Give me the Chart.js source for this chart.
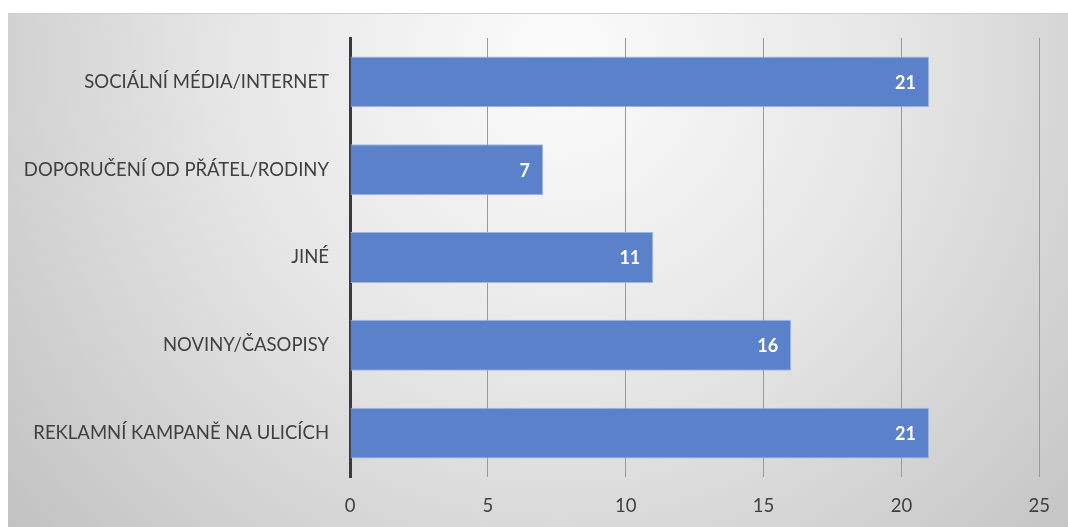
<!DOCTYPE html>
<html>
<head>
<meta charset="utf-8">
<script src="https://cdn.jsdelivr.net/npm/chart.js@4"></script>
<style>
  html, body { margin: 0; padding: 0; background: #ffffff; }
  #wrap { position: relative; width: 1068px; height: 527px; }
</style>
</head>
<body>
<div id="wrap"><canvas id="c"></canvas></div>
<script>
const categories = [
  'SOCIÁLNÍ MÉDIA/INTERNET',
  'DOPORUČENÍ OD PŘÁTEL/RODINY',
  'JINÉ',
  'NOVINY/ČASOPISY',
  'REKLAMNÍ KAMPANĚ NA ULICÍCH'
];
const counts = [21, 7, 11, 16, 21];
const xTicks = [0, 5, 10, 15, 20, 25];

const FONT = 'Lato, "Open Sans", sans-serif';

// Soft grey radial backdrop behind the plot
const backdrop = {
  id: 'backdrop',
  beforeDraw(chart) {
    const ctx = chart.ctx;
    const x0 = 8, y0 = 13, w = chart.width - x0, h = chart.height - y0;
    ctx.save();
    const g = ctx.createRadialGradient(560, 60, 10, 560, 60, 720);
    g.addColorStop(0, '#fbfbfb');
    g.addColorStop(0.45, '#e6e6e6');
    g.addColorStop(1, '#c2c2c2');
    ctx.fillStyle = g;
    ctx.fillRect(x0, y0, w, h);
    ctx.strokeStyle = '#cfcfcf';
    ctx.lineWidth = 1;
    ctx.beginPath();
    ctx.moveTo(x0, y0 + 0.5);
    ctx.lineTo(chart.width, y0 + 0.5);
    ctx.stroke();
    ctx.restore();
  }
};

// White value labels inside the end of each bar
const valueLabels = {
  id: 'valueLabels',
  afterDatasetsDraw(chart) {
    const ctx = chart.ctx;
    const meta = chart.getDatasetMeta(0);
    ctx.save();
    ctx.fillStyle = '#ffffff';
    ctx.font = 'bold 18px ' + FONT;
    ctx.textAlign = 'right';
    ctx.textBaseline = 'middle';
    meta.data.forEach((bar, i) => {
      ctx.fillText(String(chart.data.datasets[0].data[i]), bar.x - 13, bar.y + 1);
    });
    ctx.restore();
  }
};

new Chart(document.getElementById('c'), {
  type: 'bar',
  data: {
    labels: categories,
    datasets: [{
      data: counts,
      backgroundColor: '#5b81cb',
      borderColor: '#9fb6e0',
      borderWidth: 1,
      borderSkipped: 'start',
      categoryPercentage: 1,
      barPercentage: 0.58
    }]
  },
  options: {
    indexAxis: 'y',
    responsive: true,
    maintainAspectRatio: false,
    animation: false,
    layout: { padding: { top: 38, right: 25, bottom: 0, left: 0 } },
    plugins: { legend: { display: false }, tooltip: { enabled: false } },
    scales: {
      x: {
        min: 0,
        max: 25,
        afterBuildTicks(scale) { scale.ticks = xTicks.map(v => ({ value: v })); },
        afterFit(scale) { scale.height = 50; },
        grid: {
          color: '#9a9a9a',
          lineWidth: 1,
          drawTicks: false
        },
        border: { display: false },
        ticks: {
          padding: 18,
          color: '#404040',
          font: { family: FONT, size: 18.5 }
        }
      },
      y: {
        afterFit(scale) { scale.width = 350; },
        grid: { display: false, drawTicks: false },
        border: { display: true, color: '#3a3a3a', width: 3 },
        ticks: {
          padding: 21,
          color: '#404040',
          font: { family: FONT, size: 18.5 }
        }
      }
    }
  },
  plugins: [backdrop, valueLabels]
});
</script>
</body>
</html>
